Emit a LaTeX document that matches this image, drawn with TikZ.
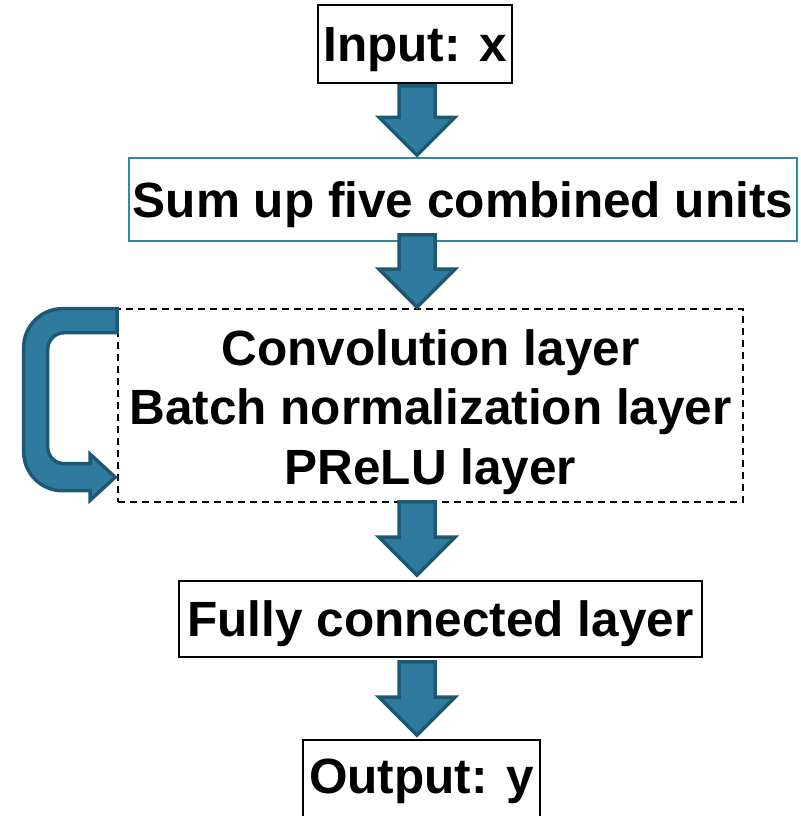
\documentclass[tikz,border=0pt]{standalone}
\usepackage{fontspec}
\setmainfont{Liberation Sans}
\usetikzlibrary{calc}
\definecolor{arrfill}{RGB}{46,123,158}
\definecolor{arrline}{RGB}{31,88,116}
\definecolor{sumline}{RGB}{52,134,166}
\tikzset{
  lbl/.style={font=\bfseries\fontsize{49.5}{59.5}\selectfont, inner sep=0pt},
  box/.style={lbl, draw=black, line width=1.8pt, text height=45pt, text depth=9.6pt},
  dashbox/.style={draw=black, line width=1.6pt, dash pattern=on 7pt off 5pt, inner sep=0pt},
  blockarrow/.style={fill=arrfill, draw=arrline, line width=3.5pt, line join=miter},
}
\newcommand\blockarr[4]{%
  \path[blockarrow] let \p1=(#1.south), \p2=(#2.north) in
    (399pt,{\y1-(#3)*1pt}) -- (435pt,{\y1-(#3)*1pt})
    -- (435pt,{\y2-(#4)*1pt+38pt}) -- (455pt,{\y2-(#4)*1pt+38pt})
    -- (417pt,{\y2-(#4)*1pt}) -- (379pt,{\y2-(#4)*1pt+38pt})
    -- (399pt,{\y2-(#4)*1pt+38pt}) -- cycle;}
\begin{document}
\begin{tikzpicture}[x=1pt,y=-1pt]
\useasboundingbox (0,0) rectangle (800,816);
% boxes
\node[box, minimum width=194pt, minimum height=78pt] (in) at (415,44) {Input: x};
\node[box, draw=sumline, line width=1.5pt, minimum width=668pt, minimum height=83pt] (sum) at (463,199.5) {Sum up five combined units};
\node[dashbox, minimum width=625pt, minimum height=193pt] (conv) at (430.5,405.5) {};
\node[lbl, align=center] (convtext) at (430.5,412) {Convolution layer\\Batch normalization layer\\PReLU layer};
\node[box, minimum width=523pt, minimum height=76pt] (fc) at (440.5,619) {Fully connected layer};
\node[box, anchor=base, text depth=30pt, inner ysep=8pt, minimum width=237pt] (out) at (421.5,793) {Output: y};
% block arrows
\blockarr{in}{sum}{2}{-2}
\blockarr{sum}{conv}{-7}{-1}
\blockarr{conv}{fc}{-1}{-5}
\blockarr{fc}{out}{4}{-4}
% loop arrow
\begin{scope}[shift={(conv.north west)}]
\path[blockarrow] (0,0.5) -- (-55,0.5) .. controls (-76,0.5) and (-93.5,18) .. (-93.5,39)
  -- (-93.5,144) .. controls (-93.5,165) and (-76,182.5) .. (-55,182.5)
  -- (-27,182.5) -- (-27,192) -- (-2,169) -- (-27,146) -- (-27,155.5)
  -- (-53,155.5) .. controls (-62,155.5) and (-69.5,148) .. (-69.5,139)
  -- (-69.5,41) .. controls (-69.5,32) and (-62,24.5) .. (-53,24.5)
  -- (0,24.5) -- cycle;
\end{scope}
\end{tikzpicture}
\end{document}
